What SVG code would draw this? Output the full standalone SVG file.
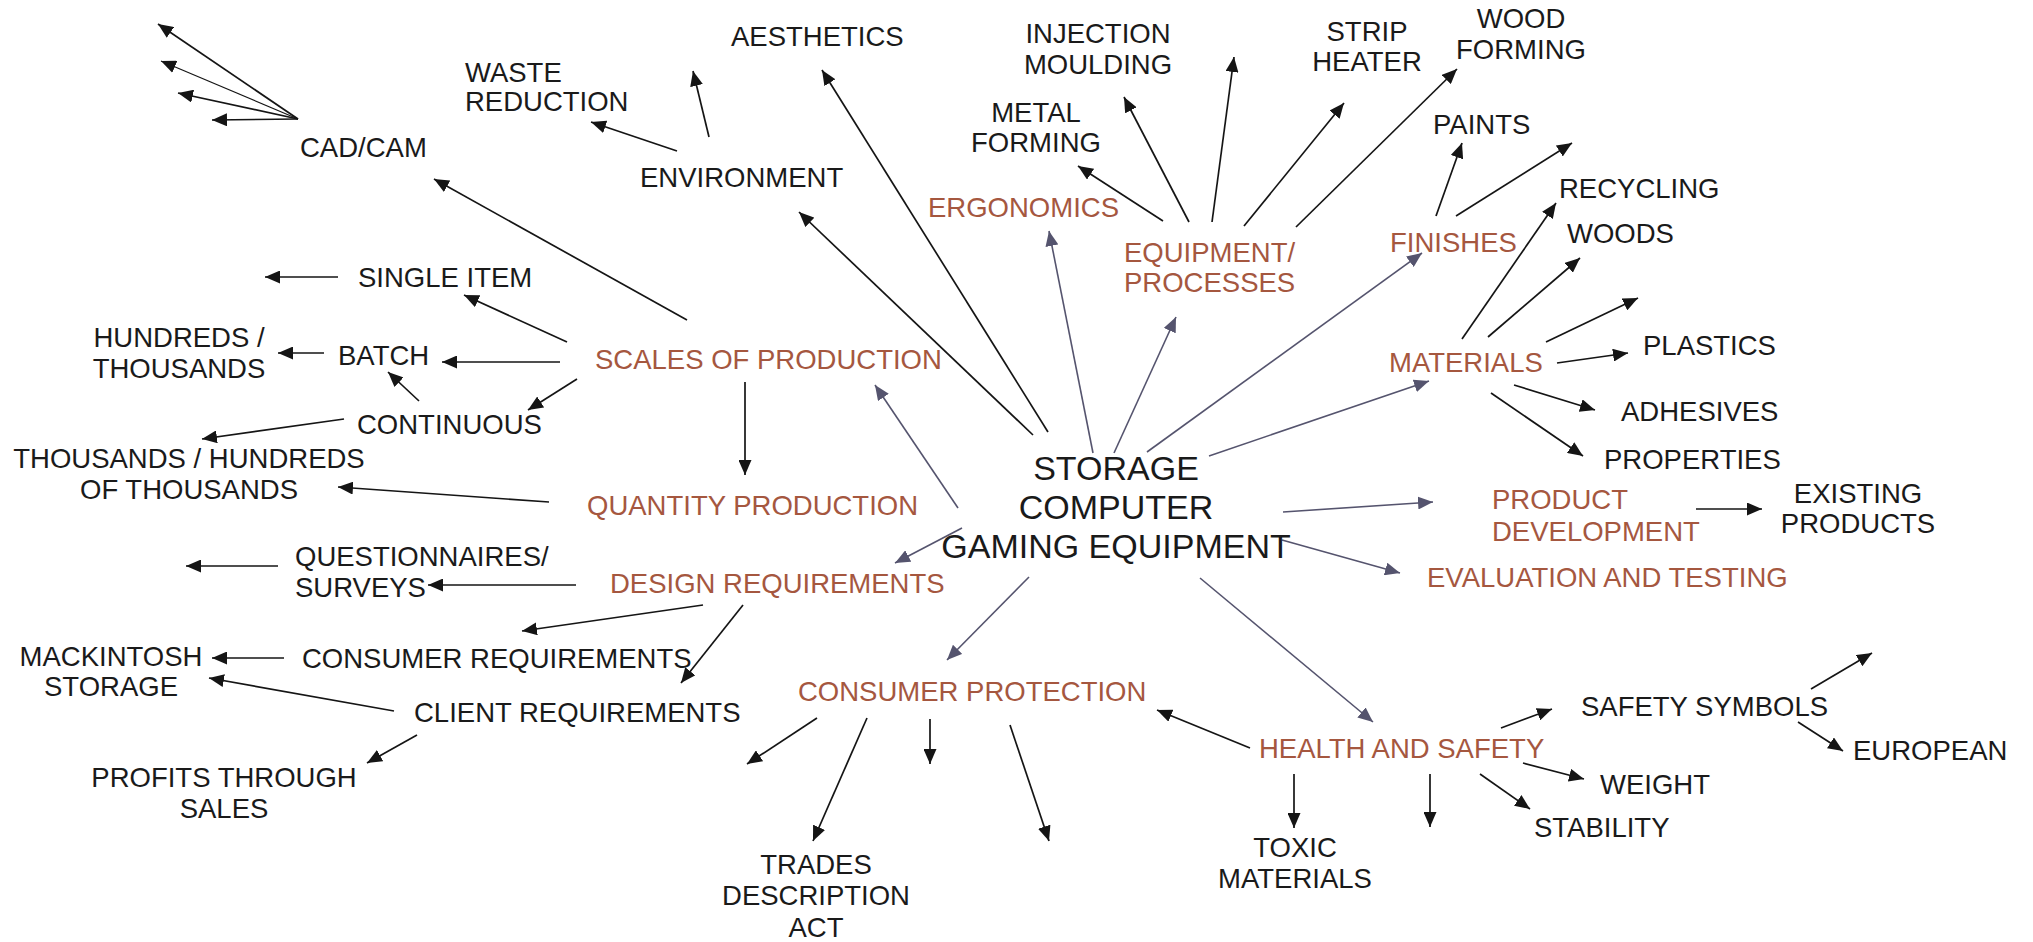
<svg xmlns="http://www.w3.org/2000/svg" width="2033" height="942" viewBox="0 0 2033 942">
<style>
text{font-family:"Liberation Sans",Arial,sans-serif;font-size:27.5px;fill:#1a1a1a}
.b{fill:#A5573F}
.c{font-size:34px}
.m{text-anchor:middle}
.k{stroke:#151515;stroke-width:1.7;fill:none;marker-end:url(#ak)}
.t{stroke:#151515;stroke-width:1.1;fill:none;marker-end:url(#ak)}
.p{stroke:#55546E;stroke-width:1.6;fill:none;marker-end:url(#ap)}
</style>
<defs>
<marker id="ak" markerUnits="userSpaceOnUse" markerWidth="15" markerHeight="13" refX="15" refY="6.5" orient="auto"><path d="M0,0 L15,6.5 L0,13 z" fill="#151515"/></marker>
<marker id="ap" markerUnits="userSpaceOnUse" markerWidth="15" markerHeight="13" refX="15" refY="6.5" orient="auto"><path d="M0,0 L15,6.5 L0,13 z" fill="#55546E"/></marker>
</defs>
<rect width="2033" height="942" fill="#fff"/>
<g id="connectors">
<line class="k" x1="298" y1="119" x2="158" y2="24"/>
<line class="t" x1="298" y1="119" x2="161" y2="61"/>
<line class="k" x1="298" y1="119" x2="178" y2="93"/>
<line class="k" x1="298" y1="119" x2="212" y2="120"/>
<line class="k" x1="687" y1="320" x2="434" y2="179"/>
<line class="k" x1="567" y1="342" x2="464" y2="295"/>
<line class="k" x1="338" y1="277" x2="265" y2="277"/>
<line class="k" x1="560" y1="362" x2="442" y2="362"/>
<line class="k" x1="324" y1="353" x2="278" y2="353"/>
<line class="k" x1="577" y1="379" x2="528" y2="410"/>
<line class="k" x1="419" y1="401" x2="388" y2="372"/>
<line class="k" x1="344" y1="419" x2="202" y2="439"/>
<line class="k" x1="745" y1="382" x2="745" y2="475"/>
<line class="k" x1="549" y1="502" x2="338" y2="487"/>
<line class="p" x1="958" y1="508" x2="875" y2="385"/>
<line class="p" x1="962" y1="528" x2="895" y2="563"/>
<line class="k" x1="576" y1="585" x2="428" y2="585"/>
<line class="k" x1="278" y1="566" x2="186" y2="566"/>
<line class="k" x1="703" y1="605" x2="522" y2="631"/>
<line class="k" x1="743" y1="605" x2="681" y2="683"/>
<line class="k" x1="284" y1="658" x2="212" y2="658"/>
<line class="k" x1="394" y1="711" x2="209" y2="678"/>
<line class="k" x1="417" y1="735" x2="367" y2="763"/>
<line class="p" x1="1029" y1="577" x2="947" y2="660"/>
<line class="k" x1="817" y1="718" x2="747" y2="764"/>
<line class="k" x1="867" y1="718" x2="813" y2="841"/>
<line class="k" x1="930" y1="719" x2="930" y2="764"/>
<line class="k" x1="1010" y1="725" x2="1049" y2="841"/>
<line class="p" x1="1200" y1="578" x2="1373" y2="722"/>
<line class="k" x1="1250" y1="748" x2="1157" y2="710"/>
<line class="k" x1="1294" y1="774" x2="1294" y2="828"/>
<line class="k" x1="1430" y1="774" x2="1430" y2="827"/>
<line class="k" x1="1480" y1="774" x2="1530" y2="809"/>
<line class="k" x1="1501" y1="728" x2="1552" y2="709"/>
<line class="k" x1="1523" y1="763" x2="1584" y2="779"/>
<line class="k" x1="1811" y1="689" x2="1872" y2="653"/>
<line class="k" x1="1798" y1="722" x2="1843" y2="751"/>
<line class="k" x1="1033" y1="435" x2="799" y2="212"/>
<line class="k" x1="1048" y1="432" x2="822" y2="70"/>
<line class="k" x1="677" y1="151" x2="591" y2="122"/>
<line class="k" x1="709" y1="137" x2="693" y2="71"/>
<line class="p" x1="1093" y1="453" x2="1049" y2="231"/>
<line class="p" x1="1114" y1="453" x2="1176" y2="317"/>
<line class="p" x1="1147" y1="452" x2="1422" y2="253"/>
<line class="p" x1="1209" y1="456" x2="1429" y2="381"/>
<line class="p" x1="1283" y1="512" x2="1433" y2="502"/>
<line class="p" x1="1282" y1="540" x2="1400" y2="573"/>
<line class="k" x1="1163" y1="221" x2="1078" y2="166"/>
<line class="k" x1="1189" y1="222" x2="1124" y2="97"/>
<line class="k" x1="1212" y1="222" x2="1234" y2="57"/>
<line class="k" x1="1244" y1="226" x2="1344" y2="103"/>
<line class="k" x1="1296" y1="227" x2="1457" y2="69"/>
<line class="k" x1="1436" y1="216" x2="1462" y2="143"/>
<line class="k" x1="1456" y1="216" x2="1572" y2="143"/>
<line class="k" x1="1462" y1="339" x2="1556" y2="203"/>
<line class="k" x1="1488" y1="337" x2="1580" y2="258"/>
<line class="k" x1="1546" y1="342" x2="1638" y2="298"/>
<line class="k" x1="1557" y1="363" x2="1628" y2="353"/>
<line class="k" x1="1514" y1="385" x2="1595" y2="410"/>
<line class="k" x1="1491" y1="393" x2="1583" y2="456"/>
<line class="k" x1="1696" y1="509" x2="1762" y2="509"/>
</g>
<g id="center"><text class="c m" x="1116" y="480">STORAGE</text><text class="c m" x="1116" y="519">COMPUTER</text><text class="c m" x="1116" y="558">GAMING EQUIPMENT</text></g>
<g id="cadcam"><text x="300" y="157">CAD/CAM</text></g>
<g id="waste"><text x="465" y="82">WASTE</text><text x="465" y="111">REDUCTION</text></g>
<g id="aesthetics"><text x="731" y="46">AESTHETICS</text></g>
<g id="environment"><text x="640" y="187">ENVIRONMENT</text></g>
<g id="ergonomics"><text class="b" x="928" y="217">ERGONOMICS</text></g>
<g id="metal"><text class="m" x="1036" y="122">METAL</text><text class="m" x="1036" y="152">FORMING</text></g>
<g id="injection"><text class="m" x="1098" y="43">INJECTION</text><text class="m" x="1098" y="74">MOULDING</text></g>
<g id="strip"><text class="m" x="1367" y="41">STRIP</text><text class="m" x="1367" y="71">HEATER</text></g>
<g id="wood"><text class="m" x="1521" y="28">WOOD</text><text class="m" x="1521" y="59">FORMING</text></g>
<g id="paints"><text x="1433" y="134">PAINTS</text></g>
<g id="equipment"><text class="b" x="1124" y="262">EQUIPMENT/</text><text class="b" x="1124" y="292">PROCESSES</text></g>
<g id="finishes"><text class="b" x="1390" y="252">FINISHES</text></g>
<g id="recycling"><text x="1559" y="198">RECYCLING</text></g>
<g id="woods"><text x="1567" y="243">WOODS</text></g>
<g id="materials"><text class="b" x="1389" y="372">MATERIALS</text></g>
<g id="plastics"><text x="1643" y="355">PLASTICS</text></g>
<g id="adhesives"><text x="1621" y="421">ADHESIVES</text></g>
<g id="properties"><text x="1604" y="469">PROPERTIES</text></g>
<g id="productdev"><text class="b" x="1492" y="509">PRODUCT</text><text class="b" x="1492" y="541">DEVELOPMENT</text></g>
<g id="existing"><text class="m" x="1858" y="503">EXISTING</text><text class="m" x="1858" y="533">PRODUCTS</text></g>
<g id="evaluation"><text class="b" x="1427" y="587">EVALUATION AND TESTING</text></g>
<g id="single"><text x="358" y="287">SINGLE ITEM</text></g>
<g id="hundreds"><text class="m" x="179" y="347">HUNDREDS /</text><text class="m" x="179" y="378">THOUSANDS</text></g>
<g id="batch"><text x="338" y="365">BATCH</text></g>
<g id="continuous"><text x="357" y="434">CONTINUOUS</text></g>
<g id="thousands"><text class="m" x="189" y="468">THOUSANDS / HUNDREDS</text><text class="m" x="189" y="499">OF THOUSANDS</text></g>
<g id="scales"><text class="b" x="595" y="369">SCALES OF PRODUCTION</text></g>
<g id="quantity"><text class="b" x="587" y="515">QUANTITY PRODUCTION</text></g>
<g id="questionnaires"><text x="295" y="566">QUESTIONNAIRES/</text><text x="295" y="597">SURVEYS</text></g>
<g id="design"><text class="b" x="610" y="593">DESIGN REQUIREMENTS</text></g>
<g id="mackintosh"><text class="m" x="111" y="666">MACKINTOSH</text><text class="m" x="111" y="696">STORAGE</text></g>
<g id="consumerreq"><text x="302" y="668">CONSUMER REQUIREMENTS</text></g>
<g id="clientreq"><text x="414" y="722">CLIENT REQUIREMENTS</text></g>
<g id="profits"><text class="m" x="224" y="787">PROFITS THROUGH</text><text class="m" x="224" y="818">SALES</text></g>
<g id="consumerprot"><text class="b" x="798" y="701">CONSUMER PROTECTION</text></g>
<g id="trades"><text class="m" x="816" y="874">TRADES</text><text class="m" x="816" y="905">DESCRIPTION</text><text class="m" x="816" y="937">ACT</text></g>
<g id="health"><text class="b" x="1259" y="758">HEALTH AND SAFETY</text></g>
<g id="toxic"><text class="m" x="1295" y="857">TOXIC</text><text class="m" x="1295" y="888">MATERIALS</text></g>
<g id="symbols"><text x="1581" y="716">SAFETY SYMBOLS</text></g>
<g id="european"><text x="1853" y="760">EUROPEAN</text></g>
<g id="weight"><text x="1600" y="794">WEIGHT</text></g>
<g id="stability"><text x="1534" y="837">STABILITY</text></g>
</svg>
